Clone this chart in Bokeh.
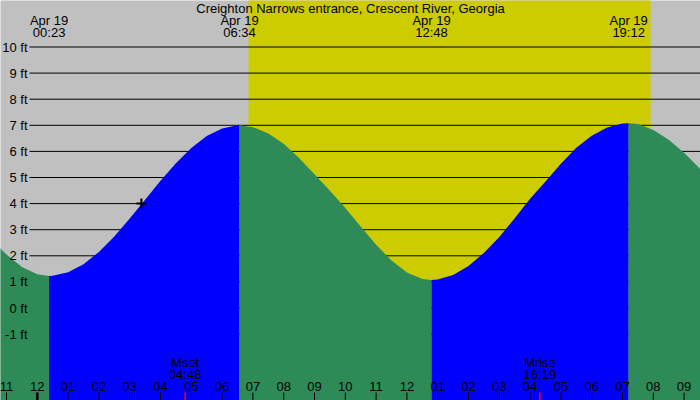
from bokeh.plotting import figure
from bokeh.models import Range1d
from bokeh.core.properties import value
from bokeh.embed import file_html
from bokeh.resources import INLINE

# ---------------- data ----------------
title = "Creighton Narrows entrance, Crescent River, Georgia"
date_label = "Apr 19"

# hours after midnight of Apr 19, sampled every half hour
sample_hours = [-1.5, -1.0, -0.5, 0.0, 0.5, 1.0, 1.5, 2.0, 2.5, 3.0, 3.5, 4.0,
                4.5, 5.0, 5.5, 6.0, 6.5, 7.0, 7.5, 8.0, 8.5, 9.0, 9.5, 10.0,
                10.5, 11.0, 11.5, 12.0, 12.5, 13.0, 13.5, 14.0, 14.5, 15.0, 15.5, 16.0,
                16.5, 17.0, 17.5, 18.0, 18.5, 19.0, 19.5, 20.0, 20.5, 21.0, 21.5, 22.0]
tide_heights = [2.65, 2.05, 1.57, 1.29, 1.24, 1.37, 1.68, 2.15, 2.74, 3.43, 4.15, 4.88,
                5.55, 6.13, 6.59, 6.88, 7.00, 6.93, 6.69, 6.29, 5.75, 5.12, 4.49, 3.83,
                3.12, 2.42, 1.82, 1.36, 1.11, 1.09, 1.26, 1.61, 2.11, 2.72, 3.44, 4.19,
                4.85, 5.53, 6.14, 6.60, 6.92, 7.07, 7.05, 6.82, 6.45, 5.95, 5.35, 4.70]

extreme_hours = [0.383, 6.567, 12.8, 19.2]
extreme_heights = [1.23, 7.00, 1.07, 7.08]
extreme_labels = ["00:23", "06:34", "12:48", "19:12"]

sun_hours = [6.857, 19.91]          # sunrise, sunset
moon_hours = [4.8, 16.317]
moon_names = ["Mset", "Mrise"]
moon_labels = ["04:48", "16:19"]

now_hour = [3.38]
now_height = [4.0]

hour_ticks = list(range(-1, 22))
hour_labels = ["11", "12", "01", "02", "03", "04", "05", "06", "07", "08", "09", "10",
               "11", "12", "01", "02", "03", "04", "05", "06", "07", "08", "09"]

ft_levels = [-1, 0, 1, 2, 3, 4, 5, 6, 7, 8, 9, 10]
ft_labels = ["-1 ft", "0 ft", "1 ft", "2 ft", "3 ft", "4 ft", "5 ft", "6 ft",
             "7 ft", "8 ft", "9 ft", "10 ft"]

# ---------------- layout / style ----------------
W, H = 700, 400
PX_PER_HOUR = 30.8
MIDNIGHT_PX = 36.8
PX_PER_FT = 26.1
ZERO_FT_PX = 307.5
TXT_SHIFT = 4.5

x_start = -MIDNIGHT_PX / PX_PER_HOUR
x_end = (W - MIDNIGHT_PX) / PX_PER_HOUR
y_end = ZERO_FT_PX / PX_PER_FT
y_start = (ZERO_FT_PX - H) / PX_PER_FT


def hr_at(px):
    return (px - MIDNIGHT_PX) / PX_PER_HOUR


def ft_at(py):
    return (ZERO_FT_PX - py) / PX_PER_FT


def txt_at(py):
    return ft_at(py - TXT_SHIFT)


GREY = "#C0C0C0"
DAY = "#CCCC00"
RISE = "#0000FF"
FALL = "#2E8B57"
FONT = value("Liberation Sans")
FS = "13px"

p = figure(width=W, height=H, output_backend="svg", toolbar_location=None,
           x_range=Range1d(x_start, x_end), y_range=Range1d(y_start, y_end),
           min_border=0, min_border_left=0, min_border_right=0,
           min_border_top=0, min_border_bottom=0)
p.xaxis.visible = False
p.yaxis.visible = False
p.grid.visible = False
p.outline_line_color = None
p.background_fill_color = GREY
p.border_fill_color = GREY

# daylight band
p.quad(left=[sun_hours[0]], right=[sun_hours[1]], bottom=[y_start - 1], top=[y_end + 1],
       fill_color=DAY, line_color=None)

# horizontal level lines (behind water)
p.segment(x0=[hr_at(29)] * len(ft_levels), x1=[x_end + 1] * len(ft_levels),
          y0=ft_levels, y1=ft_levels, line_color="black", line_width=1)

# water, split at each high / low water
bounds = [sample_hours[0]] + extreme_hours + [sample_hours[-1]]
bound_h = [tide_heights[0]] + extreme_heights + [tide_heights[-1]]
for i in range(len(bounds) - 1):
    a, b = bounds[i], bounds[i + 1]
    xs = [a] + [h for h in sample_hours if a < h < b] + [b]
    ys = [bound_h[i]] + [v for h, v in zip(sample_hours, tide_heights) if a < h < b] + [bound_h[i + 1]]
    color = RISE if bound_h[i + 1] > bound_h[i] else FALL
    p.varea(x=xs, y1=[y_start - 1] * len(xs), y2=ys, fill_color=color)

# level labels
p.text(x=[hr_at(27)] * len(ft_levels), y=ft_levels, text=ft_labels,
       text_align="right", text_baseline="middle", text_font=FONT,
       text_font_size=FS, text_color="black")

# title and high/low labels
p.text(x=[(x_start + x_end) / 2], y=[txt_at(12)], text=[title], text_align="center",
       text_baseline="alphabetic", text_font=FONT, text_font_size=FS, text_color="black")
p.text(x=extreme_hours, y=[txt_at(24)] * len(extreme_hours), text=[date_label] * len(extreme_hours),
       text_align="center", text_baseline="alphabetic", text_font=FONT,
       text_font_size=FS, text_color="black")
p.text(x=extreme_hours, y=[txt_at(36)] * len(extreme_hours), text=extreme_labels,
       text_align="center", text_baseline="alphabetic", text_font=FONT,
       text_font_size=FS, text_color="black")

# hour ticks and labels
normal = [h for h in hour_ticks if h % 24 != 0]
midnight = [h for h in hour_ticks if h % 24 == 0]
p.segment(x0=normal, x1=normal, y0=[ft_at(392)] * len(normal), y1=[y_start - 1] * len(normal),
          line_color="black", line_width=1)
p.segment(x0=midnight, x1=midnight, y0=[ft_at(392)] * len(midnight), y1=[y_start - 1] * len(midnight),
          line_color="black", line_width=2.5)
p.text(x=hour_ticks, y=[txt_at(390)] * len(hour_ticks), text=hour_labels,
       text_align="center", text_baseline="alphabetic", text_font=FONT,
       text_font_size=FS, text_color="black")

# moon events
p.segment(x0=moon_hours, x1=moon_hours, y0=[ft_at(392)] * len(moon_hours),
          y1=[y_start - 1] * len(moon_hours), line_color="red", line_width=1.5)
p.text(x=moon_hours, y=[txt_at(366.5)] * len(moon_hours), text=moon_names,
       text_align="center", text_baseline="alphabetic", text_font=FONT,
       text_font_size=FS, text_color="black")
p.text(x=moon_hours, y=[txt_at(378)] * len(moon_hours), text=moon_labels,
       text_align="center", text_baseline="alphabetic", text_font=FONT,
       text_font_size=FS, text_color="black")

# current position marker
p.scatter(x=now_hour, y=now_height, marker="cross", size=10, line_width=2, line_color="black")

open("out.html", "w").write(file_html(p, INLINE))
